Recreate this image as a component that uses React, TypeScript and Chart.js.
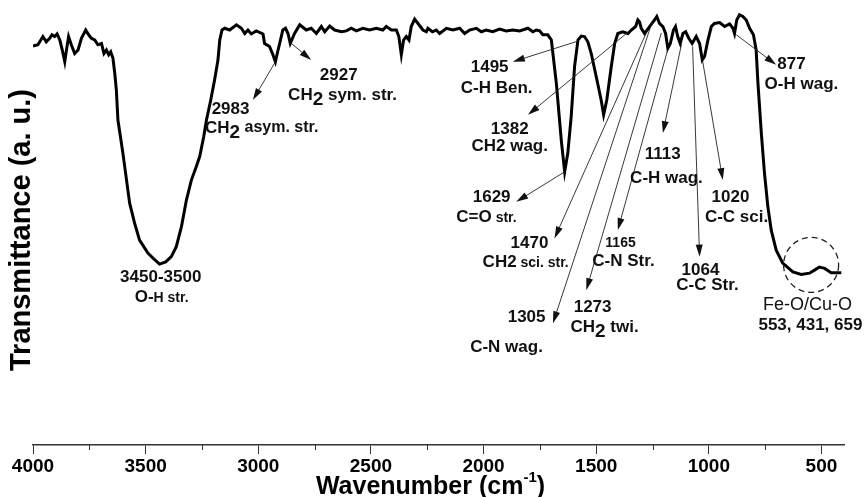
import React, { useEffect, useRef } from 'react';
import { Chart, registerables } from 'chart.js';

Chart.register(...registerables);

// FTIR spectrum: wavenumber (cm^-1) and transmittance (a. u.)
const wavenumbers = [
  4000, 3978, 3956, 3941, 3926, 3916, 3904, 3893, 3881, 3870, 3859, 3850, 3842, 3830, 3815, 3800, 3785, 3766, 3753, 3741,
  3726, 3712, 3696, 3685, 3674, 3664, 3655, 3645, 3637, 3630, 3623, 3601, 3571, 3549, 3527, 3490, 3464, 3438, 3411, 3386,
  3364, 3341, 3319, 3297, 3275, 3260, 3242, 3230, 3211, 3194, 3179, 3171, 3161, 3149, 3127, 3097, 3075, 3060, 3046, 3031,
  3009, 2979, 2972, 2950, 2935, 2924, 2914, 2905, 2891, 2879, 2868, 2858, 2839, 2816, 2787, 2765, 2742, 2720, 2705, 2683,
  2661, 2631, 2609, 2587, 2565, 2536, 2506, 2476, 2447, 2432, 2409, 2387, 2376, 2365, 2355, 2343, 2331, 2321, 2306, 2291,
  2269, 2254, 2247, 2227, 2210, 2195, 2165, 2136, 2106, 2084, 2062, 2032, 2010, 1988, 1959, 1929, 1899, 1870, 1840, 1803,
  1781, 1766, 1751, 1737, 1715, 1699, 1677, 1655, 1640, 1626, 1611, 1596, 1581, 1566, 1552, 1537, 1522, 1500, 1478, 1467,
  1453, 1433, 1418, 1404, 1382, 1359, 1344, 1325, 1315, 1308, 1300, 1285, 1263, 1241, 1231, 1219, 1204, 1192, 1182, 1171,
  1157, 1148, 1138, 1127, 1115, 1103, 1089, 1074, 1056, 1041, 1029, 1019, 1004, 989, 975, 952, 930, 908, 893, 886,
  876, 864, 849, 834, 819, 802, 790, 782, 767, 753, 738, 723, 701, 672, 627, 590, 553, 531, 509, 486,
  457, 412,
];
const transmittance = [
  91.7, 92.0, 93.9, 92.7, 93.5, 94.3, 93.9, 94.5, 93.1, 90.8, 88.1, 91.3, 93.9, 92.0, 90.0, 90.8, 93.5, 95.4, 94.3, 93.5,
  93.1, 92.0, 92.3, 90.0, 90.8, 89.7, 90.4, 88.9, 85.4, 81.6, 74.7, 67.1, 55.6, 51.0, 47.1, 44.1, 42.8, 41.6, 42.1, 43.3,
  45.6, 50.2, 56.3, 60.9, 64.0, 66.3, 70.9, 74.7, 79.3, 83.9, 88.5, 93.1, 95.4, 95.8, 95.4, 96.6, 95.8, 94.6, 95.4, 94.5,
  95.2, 94.5, 92.3, 91.6, 89.7, 88.1, 90.4, 92.3, 95.4, 95.8, 94.6, 92.3, 94.6, 96.6, 95.4, 95.8, 94.6, 96.2, 95.0, 96.3,
  95.4, 95.0, 95.2, 95.8, 95.2, 95.8, 95.4, 95.8, 95.4, 96.2, 95.4, 95.4, 93.9, 89.7, 93.1, 93.9, 93.1, 96.2, 97.9, 96.9,
  95.4, 95.0, 95.8, 95.0, 95.4, 94.6, 95.8, 95.4, 95.8, 94.6, 95.4, 95.8, 95.0, 95.4, 95.0, 95.6, 95.2, 95.4, 95.2, 95.8,
  95.0, 95.4, 95.2, 94.3, 94.3, 93.1, 83.2, 70.1, 62.8, 67.1, 75.5, 87.0, 93.1, 94.0, 93.9, 92.7, 90.0, 84.7, 79.3, 75.9,
  79.3, 87.0, 92.3, 94.6, 95.0, 94.6, 95.4, 96.2, 97.7, 97.3, 95.8, 94.6, 96.2, 97.7, 98.5, 96.9, 96.2, 94.6, 91.2, 92.3,
  95.4, 96.2, 93.9, 92.3, 94.6, 95.0, 93.5, 92.3, 93.9, 92.3, 88.5, 89.3, 93.1, 96.2, 96.9, 97.1, 96.2, 96.8, 95.8, 94.6,
  97.7, 98.9, 98.5, 97.7, 95.8, 94.3, 90.8, 83.2, 71.7, 62.5, 54.8, 49.4, 44.8, 41.8, 39.8, 39.2, 39.5, 40.2, 40.9, 40.6,
  39.6, 39.6,
];

const majorTicks = [4000, 3500, 3000, 2500, 2000, 1500, 1000, 500];
const minorTicks = [3750, 3250, 2750, 2250, 1750, 1250, 750];

const xTitle = 'Wavenumber (cm';
const xTitleSup = '-1';
const yTitle = 'Transmittance (a. u.)';

// label lines: [wavenumber, transmittance, segments]; segment = [text, style]
type Seg = [string, string];
type Line = [number, number, Seg[]];
type Ann = { lines: Line[]; arrow?: [number, number, number, number] };

const annotations: Ann[] = [
  { lines: [[3123, 77.2, [['2983', 'b']]], [2985, 72.9, [['CH', 'b'], ['2', 'sub'], [' asym. str.', 'm']]]], arrow: [2924, 88.1, 3024, 79.3] },
  { lines: [[2643, 85.1, [['2927', 'b']]], [2626, 80.5, [['CH', 'b'], ['2', 'sub'], [' sym. str.', 'b']]]], arrow: [2853, 92.3, 2765, 88.5] },
  { lines: [[1973, 86.9, [['1495', 'b']]], [1942, 82.1, [['C-H Ben.', 'b']]]], arrow: [1578, 92.9, 1870, 88.1] },
  { lines: [[1884, 72.6, [['1382', 'b']]], [1884, 68.7, [['CH2 wag.', 'b']]]], arrow: [1352, 95.2, 1803, 75.9] },
  { lines: [[1964, 57.0, [['1629', 'b']]], [1987, 52.4, [['C=O', 'b'], [' str.', 's']]]], arrow: [1640, 62.8, 1855, 55.9] },
  { lines: [[1796, 46.4, [['1470', 'b']]], [1813, 42.1, [['CH2', 'b'], [' sci. str.', 's']]]], arrow: [1272, 95.4, 1685, 47.5] },
  { lines: [[1809, 29.4, [['1305', 'b']]], [1898, 22.5, [['C-N wag.', 'b']]]], arrow: [1250, 97.5, 1692, 28.0] },
  { lines: [[1516, 31.7, [['1273', 'b']]], [1463, 27.1, [['CH', 'b'], ['2', 'sub'], [' twi.', 'b']]]], arrow: [1211, 94.7, 1544, 35.6] },
  { lines: [[1392, 46.7, [['1165', 's']]], [1379, 42.3, [['C-N Str.', 'b']]]], arrow: [1182, 91.0, 1404, 49.4] },
  { lines: [[1205, 66.9, [['1113', 'b']]], [1188, 61.2, [['C-H wag.', 'b']]]], arrow: [1122, 92.0, 1204, 71.7] },
  { lines: [[1037, 40.2, [['1064', 'b']]], [1006, 36.6, [['C-C Str.', 'b']]]], arrow: [1072, 91.6, 1041, 43.3] },
  { lines: [[904, 57.0, [['1020', 'b']]], [877, 52.4, [['C-C sci.', 'b']]]], arrow: [1027, 88.1, 938, 60.9] },
  { lines: [[633, 87.4, [['877', 'b']]], [589, 83.0, [['O-H wag.', 'b']]]], arrow: [878, 94.3, 701, 87.4] },
  { lines: [[3433, 38.6, [['3450-3500', 'b']]], [3429, 34.0, [['O-', 'b'], ['H str.', 's']]]] },
  { lines: [[562, 32.2, [['Fe-O/Cu-O', 'n']]], [549, 27.6, [['553, 431, 659', 'b']]]] },
];
const circleCenter = [546, 41.4];

const FONT = 'Arial, "Liberation Sans", sans-serif';
const STYLES: Record<string, { font: string; dy: number }> = {
  b: { font: `bold 17px ${FONT}`, dy: 0 },
  m: { font: `bold 16px ${FONT}`, dy: 0 },
  s: { font: `bold 14px ${FONT}`, dy: 1 },
  sub: { font: `bold 19px ${FONT}`, dy: 5 },
  n: { font: `18px ${FONT}`, dy: 0 },
};

const overlayPlugin = {
  id: 'overlay',
  afterDraw(chart: any) {
    const ctx: CanvasRenderingContext2D = chart.ctx;
    const xs = chart.scales.x;
    const ys = chart.scales.y;
    const area = chart.chartArea;
    ctx.save();
    // minor ticks
    ctx.strokeStyle = '#333';
    ctx.lineWidth = 1;
    minorTicks.forEach((t) => {
      const px = Math.round(xs.getPixelForValue(t)) + 0.5;
      ctx.beginPath();
      ctx.moveTo(px, area.bottom);
      ctx.lineTo(px, area.bottom + 5);
      ctx.stroke();
    });
    // arrows
    ctx.strokeStyle = '#222';
    ctx.fillStyle = '#111';
    annotations.forEach((a) => {
      if (!a.arrow) return;
      const x1 = xs.getPixelForValue(a.arrow[0]);
      const y1 = ys.getPixelForValue(a.arrow[1]);
      const x2 = xs.getPixelForValue(a.arrow[2]);
      const y2 = ys.getPixelForValue(a.arrow[3]);
      const ang = Math.atan2(y2 - y1, x2 - x1);
      const L = 12;
      const W = 3.5;
      ctx.lineWidth = 0.9;
      ctx.beginPath();
      ctx.moveTo(x1, y1);
      ctx.lineTo(x2 - Math.cos(ang) * L * 0.8, y2 - Math.sin(ang) * L * 0.8);
      ctx.stroke();
      ctx.beginPath();
      ctx.moveTo(x2, y2);
      ctx.lineTo(x2 - Math.cos(ang) * L - Math.sin(ang) * W, y2 - Math.sin(ang) * L + Math.cos(ang) * W);
      ctx.lineTo(x2 - Math.cos(ang) * L + Math.sin(ang) * W, y2 - Math.sin(ang) * L - Math.cos(ang) * W);
      ctx.closePath();
      ctx.fill();
    });
    // labels
    ctx.textBaseline = 'middle';
    ctx.textAlign = 'left';
    ctx.fillStyle = '#111';
    annotations.forEach((a) => {
      a.lines.forEach(([wn, tv, segs]) => {
        const cx = xs.getPixelForValue(wn);
        const cy = ys.getPixelForValue(tv);
        let total = 0;
        segs.forEach(([t, s]) => {
          ctx.font = STYLES[s].font;
          total += ctx.measureText(t).width;
        });
        let x = cx - total / 2;
        segs.forEach(([t, s]) => {
          ctx.font = STYLES[s].font;
          ctx.fillText(t, x, cy + STYLES[s].dy);
          x += ctx.measureText(t).width;
        });
      });
    });
    // dashed circle
    ctx.setLineDash([6, 4]);
    ctx.lineWidth = 1.3;
    ctx.strokeStyle = '#222';
    ctx.beginPath();
    ctx.arc(xs.getPixelForValue(circleCenter[0]), ys.getPixelForValue(circleCenter[1]), 27.5, 0, Math.PI * 2);
    ctx.stroke();
    ctx.setLineDash([]);
    // x title
    ctx.fillStyle = '#000';
    ctx.textBaseline = 'alphabetic';
    const big = `bold 25px ${FONT}`;
    const small = `bold 15px ${FONT}`;
    ctx.font = big;
    const mainW = ctx.measureText(xTitle).width;
    ctx.font = small;
    const supW = ctx.measureText(xTitleSup).width;
    ctx.font = big;
    const closeW = ctx.measureText(')').width;
    const tw = mainW + supW + closeW;
    let tx = (area.left + area.right) / 2 - 8 - tw / 2;
    const ty = 494;
    ctx.fillText(xTitle, tx, ty);
    tx += mainW;
    ctx.font = small;
    ctx.fillText(xTitleSup, tx, ty - 12);
    tx += supW;
    ctx.font = big;
    ctx.fillText(')', tx, ty);
    // y title
    ctx.save();
    ctx.translate(22, 230);
    ctx.rotate(-Math.PI / 2);
    ctx.textAlign = 'center';
    ctx.textBaseline = 'middle';
    ctx.font = `bold 29px ${FONT}`;
    ctx.fillText(yTitle, 0, 0);
    ctx.restore();
    ctx.restore();
  },
};

export default function App() {
  const ref = useRef<HTMLCanvasElement | null>(null);
  useEffect(() => {
    if (!ref.current) return;
    const chart = new Chart(ref.current, {
      type: 'line',
      data: {
        datasets: [
          {
            data: wavenumbers.map((w, i) => ({ x: w, y: transmittance[i] })),
            borderColor: '#000',
            borderWidth: 3,
            pointRadius: 0,
            tension: 0,
            fill: false,
          },
        ],
      },
      options: {
        animation: false,
        responsive: false,
        maintainAspectRatio: false,
        layout: { padding: { left: 33, right: 20, top: 10, bottom: 0 } },
        plugins: { legend: { display: false }, tooltip: { enabled: false } },
        scales: {
          x: {
            type: 'linear',
            reverse: true,
            min: 400,
            max: 4000,
            afterBuildTicks: (scale: any) => {
              scale.ticks = majorTicks.map((v) => ({ value: v }));
            },
            afterFit: (scale: any) => {
              scale.height = 52;
            },
            grid: { display: true, drawOnChartArea: false, drawTicks: true, tickLength: 9, color: '#333', lineWidth: 1 },
            border: { display: true, color: '#333', width: 1.5 },
            ticks: {
              padding: 1,
              color: '#000',
              font: { family: FONT, size: 19, weight: 'bold' },
              maxRotation: 0,
              autoSkip: false,
              callback: (v: any) => String(v),
            },
          },
          y: { display: false, min: 0, max: 100 },
        },
      },
      plugins: [overlayPlugin],
    } as any);
    return () => chart.destroy();
  }, []);
  return (
    <div style={{ position: 'fixed', left: 0, top: 0, width: 864, height: 497, background: '#fff' }}>
      <canvas ref={ref} width={864} height={497} style={{ display: 'block' }} />
    </div>
  );
}
